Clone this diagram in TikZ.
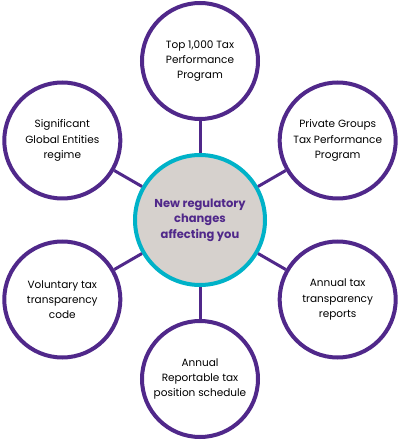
\documentclass[tikz,border=0pt]{standalone}
\usepackage{fontspec}
\setmainfont{Poppins}
\usetikzlibrary{positioning}

\definecolor{kpurple}{RGB}{80,40,138}
\definecolor{kcyan}{RGB}{0,178,200}
\definecolor{kgrey}{RGB}{214,209,205}

\tikzset{
  hub/.style={circle,draw=kcyan,fill=kgrey,line width=4pt,minimum size=130pt,
    inner sep=0pt,align=center,text=kpurple,font=\fontsize{11.5}{15.5}\selectfont\bfseries},
  spoke/.style={circle,draw=kpurple,fill=white,line width=4pt,minimum size=116pt,
    inner sep=0pt,align=center,font=\fontsize{10.5}{15.3}\selectfont},
  link/.style={draw=kpurple,line width=3pt}
}

\begin{document}
\begin{tikzpicture}
  \useasboundingbox (-200pt,-221pt) rectangle (200pt,220pt);
  \node[hub] (centre) at (0,0) {New regulatory\\changes\\affecting you};
  % six programmes round the hub
  \node[spoke] (top)   at (90:159pt)  {Top 1,000 Tax\\Performance\\Program};
  \node[spoke] (sge)   at (150:159pt) {Significant\\Global Entities\\regime};
  \node[spoke] (pg)    at (30:159pt)  {Private Groups\\Tax Performance\\Program};
  \node[spoke] (vttc)  at (210:159pt) {Voluntary tax\\transparency\\code};
  \node[spoke] (attr)  at (330:159pt) {Annual tax\\transparency\\reports};
  \node[spoke] (rtp)   at (270:159pt) {Annual\\Reportable tax\\position schedule};
  \draw[link] (centre) -- (top);
  \draw[link] (centre) -- (sge);
  \draw[link] (centre) -- (pg);
  \draw[link] (centre) -- (vttc);
  \draw[link] (centre) -- (attr);
  \draw[link] (centre) -- (rtp);
\end{tikzpicture}
\end{document}
